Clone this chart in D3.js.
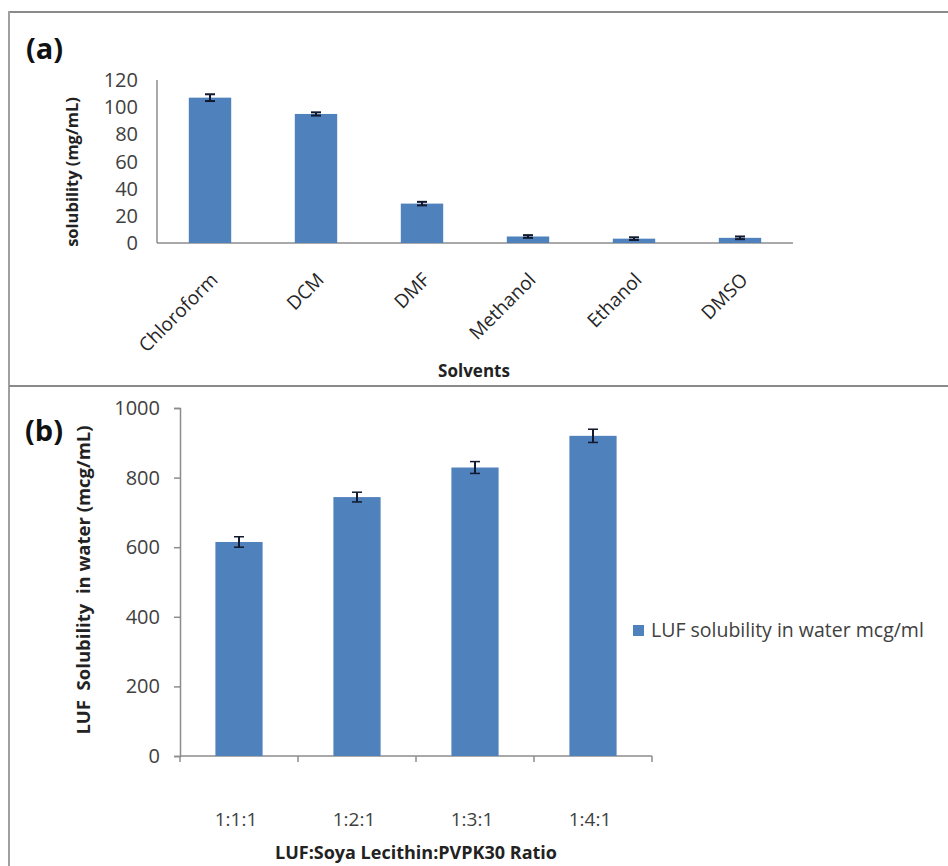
<!DOCTYPE html>
<html>
<head>
<meta charset="utf-8">
<style>
  body { margin: 0; background: #fff; }
  svg { display: block; font-family: "Open Sans", sans-serif; }
</style>
</head>
<body>
<div id="container"></div>
<script src="https://cdn.jsdelivr.net/npm/d3@7"></script>
<script>
// panel (a) data
const solvents = ['Chloroform', 'DCM', 'DMF', 'Methanol', 'Ethanol', 'DMSO'];
const solubility = [107, 95, 29, 4.8, 3.2, 3.8];
const solubilityErr = [2.5, 1.2, 1.3, 1.0, 1.0, 1.0];
const ticksA = [0, 20, 40, 60, 80, 100, 120];

// panel (b) data
const ratios = ['1:1:1', '1:2:1', '1:3:1', '1:4:1'];
const waterSol = [615, 744, 829, 920];
const waterErr = [15, 14, 17, 19];
const ticksB = [0, 200, 400, 600, 800, 1000];

const W = 948, H = 866;
const BLUE = '#4f81bd', AXIS = '#8c8c8c', ERR = '#111a2e';
const FONT = '"Open Sans", sans-serif';

const svg = d3.select('#container').append('svg')
    .attr('width', W).attr('height', H);

// frame lines
svg.append('line').attr('x1', 9).attr('x2', W).attr('y1', 12).attr('y2', 12)
    .attr('stroke', '#8a8a8a').attr('stroke-width', 2);
svg.append('line').attr('x1', 9).attr('x2', 9).attr('y1', 11).attr('y2', H)
    .attr('stroke', '#a0a0a0').attr('stroke-width', 2);
svg.append('line').attr('x1', 9).attr('x2', W).attr('y1', 386).attr('y2', 386)
    .attr('stroke', '#8a8a8a').attr('stroke-width', 2);

// ---------- panel (a) ----------
const xa = d3.scaleBand().domain(solvents).range([157, 793]);
const ya = d3.scaleLinear().domain([0, 120]).range([243, 80]);

svg.append('text').attr('x', 26).attr('y', 59)
    .attr('font-size', 29).attr('font-weight', 'bold').attr('fill', '#111')
    .text('(a)');

const ga = svg.append('g');
ga.append('line').attr('x1', 157).attr('x2', 157).attr('y1', ya(120)).attr('y2', ya(0))
    .attr('stroke', AXIS).attr('stroke-width', 1.5);
ga.append('line').attr('x1', 157).attr('x2', 793).attr('y1', ya(0)).attr('y2', ya(0))
    .attr('stroke', AXIS).attr('stroke-width', 1.5);

ga.selectAll('.yt').data(ticksA).enter().append('text')
    .attr('x', 138).attr('y', d => ya(d)).attr('dy', '0.35em')
    .attr('text-anchor', 'end').attr('font-size', 20).attr('fill', '#404040')
    .text(d => d);

const bwA = xa.bandwidth() * 0.4;
ga.selectAll('.bar').data(solvents).enter().append('rect')
    .attr('x', d => xa(d) + xa.bandwidth() / 2 - bwA / 2)
    .attr('y', (d, i) => ya(solubility[i]))
    .attr('width', bwA)
    .attr('height', (d, i) => ya(0) - ya(solubility[i]))
    .attr('fill', BLUE);

solvents.forEach((s, i) => {
    const cx = xa(s) + xa.bandwidth() / 2;
    const t = ya(solubility[i] + solubilityErr[i]), b = ya(solubility[i] - solubilityErr[i]);
    ga.append('line').attr('x1', cx).attr('x2', cx).attr('y1', t).attr('y2', b)
        .attr('stroke', ERR).attr('stroke-width', 2);
    [t, b].forEach(y => ga.append('line').attr('x1', cx - 5).attr('x2', cx + 5)
        .attr('y1', y).attr('y2', y).attr('stroke', ERR).attr('stroke-width', 2));
});

ga.selectAll('.xl').data(solvents).enter().append('text')
    .attr('transform', d => `translate(${xa(d) + xa.bandwidth() / 2 + 9},${ya(0) + 38}) rotate(-45)`)
    .attr('text-anchor', 'end').attr('font-size', 19).attr('fill', '#262626')
    .text(d => d);

ga.append('text').attr('transform', 'translate(78,172) rotate(-90)')
    .attr('text-anchor', 'middle').attr('font-size', 16.5).attr('font-weight', 'bold')
    .attr('fill', '#222').text('solubility (mg/mL)');

ga.append('text').attr('x', 474).attr('y', 377)
    .attr('text-anchor', 'middle').attr('font-size', 17).attr('font-weight', 'bold')
    .attr('fill', '#222').text('Solvents');

// ---------- panel (b) ----------
const xb = d3.scaleBand().domain(ratios).range([180, 652]);
const yb = d3.scaleLinear().domain([0, 1000]).range([756, 408]);

svg.append('text').attr('x', 25).attr('y', 441)
    .attr('font-size', 29).attr('font-weight', 'bold').attr('fill', '#111')
    .text('(b)');

const gb = svg.append('g');
gb.append('g').attr('transform', 'translate(180,0)')
    .call(d3.axisLeft(yb).tickValues(ticksB).tickFormat(d3.format('d')).tickSize(6).tickPadding(14))
    .call(g => g.selectAll('line,path').attr('stroke', AXIS).attr('stroke-width', 1.5))
    .call(g => g.selectAll('text').attr('font-size', 20).attr('fill', '#404040')
        .attr('font-family', FONT));

// x axis with ticks at category boundaries
gb.append('line').attr('x1', 180).attr('x2', 652).attr('y1', yb(0)).attr('y2', yb(0))
    .attr('stroke', AXIS).attr('stroke-width', 1.5);
gb.selectAll('.xt').data(ratios.concat(['end'])).enter().append('line')
    .attr('x1', (d, i) => 180 + i * xb.step()).attr('x2', (d, i) => 180 + i * xb.step())
    .attr('y1', yb(0)).attr('y2', yb(0) + 6)
    .attr('stroke', AXIS).attr('stroke-width', 1.5);

const bwB = xb.bandwidth() * 0.4;
gb.selectAll('.bar').data(ratios).enter().append('rect')
    .attr('x', d => xb(d) + xb.bandwidth() / 2 - bwB / 2)
    .attr('y', (d, i) => yb(waterSol[i]))
    .attr('width', bwB)
    .attr('height', (d, i) => yb(0) - yb(waterSol[i]))
    .attr('fill', BLUE);

ratios.forEach((r, i) => {
    const cx = xb(r) + xb.bandwidth() / 2;
    const t = yb(waterSol[i] + waterErr[i]), b = yb(waterSol[i] - waterErr[i]);
    gb.append('line').attr('x1', cx).attr('x2', cx).attr('y1', t).attr('y2', b)
        .attr('stroke', ERR).attr('stroke-width', 2);
    [t, b].forEach(y => gb.append('line').attr('x1', cx - 5).attr('x2', cx + 5)
        .attr('y1', y).attr('y2', y).attr('stroke', ERR).attr('stroke-width', 1.5));
});

gb.selectAll('.xl').data(ratios).enter().append('text')
    .attr('x', d => xb(d) + xb.bandwidth() / 2 - 3).attr('y', 826)
    .attr('text-anchor', 'middle').attr('font-size', 19).attr('fill', '#404040')
    .text(d => d);

gb.append('text').attr('transform', 'translate(90,580) rotate(-90)')
    .attr('text-anchor', 'middle').attr('font-size', 18.5).attr('font-weight', 'bold')
    .attr('fill', '#222').attr('xml:space', 'preserve')
    .text('LUF  Solubility  in water (mcg/mL)');

gb.append('text').attr('x', 416).attr('y', 859)
    .attr('text-anchor', 'middle').attr('font-size', 18).attr('font-weight', 'bold')
    .attr('fill', '#222').text('LUF:Soya Lecithin:PVPK30 Ratio');

// legend
gb.append('rect').attr('x', 633).attr('y', 625).attr('width', 11).attr('height', 11)
    .attr('fill', BLUE);
gb.append('text').attr('x', 651).attr('y', 630).attr('dy', '0.35em')
    .attr('font-size', 19.5).attr('fill', '#404040')
    .text('LUF solubility in water mcg/ml');
</script>
</body>
</html>
